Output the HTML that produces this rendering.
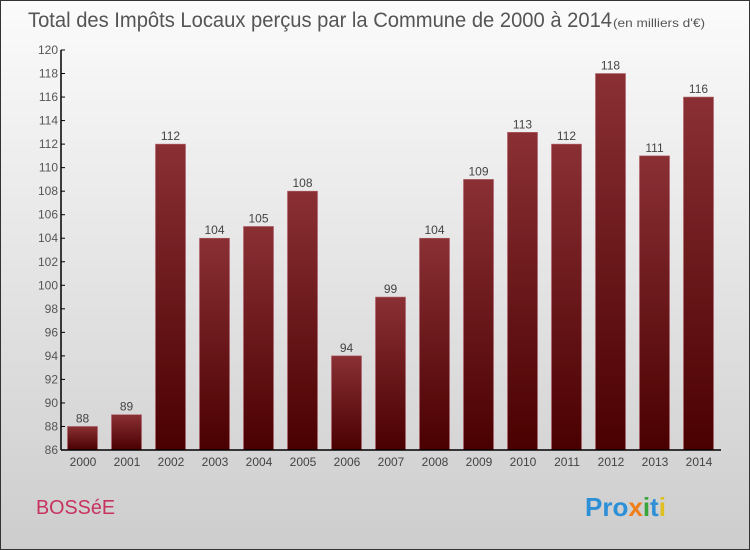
<!DOCTYPE html>
<html><head><meta charset="utf-8"><style>
body{margin:0;}
#c{width:750px;height:550px;position:relative;box-sizing:border-box;border:1px solid #333;background:linear-gradient(#fbfbfb,#cdcdcd);font-family:"Liberation Sans",sans-serif;overflow:hidden}
</style></head><body>
<div id="c">
<svg id="s" width="750" height="550" style="position:absolute;left:-1px;top:-1px">
<defs><linearGradient id="g" x1="0" y1="0" x2="0" y2="1"><stop offset="0" stop-color="#8a3035"/><stop offset="1" stop-color="#4a0000"/></linearGradient></defs>
<text x="28" y="27" font-size="21" fill="#555" textLength="584" lengthAdjust="spacingAndGlyphs">Total des Impôts Locaux perçus par la Commune de 2000 à 2014</text>
<text x="613" y="27" font-size="12" fill="#555" textLength="92" lengthAdjust="spacingAndGlyphs">(en milliers d'€)</text>
<text x="36" y="514" font-size="20" fill="#c8325f" textLength="79" lengthAdjust="spacingAndGlyphs">BOSSéE</text>
<text x="585" y="516" font-size="26" font-weight="bold"><tspan fill="#2d8fd6">Pro</tspan><tspan fill="#f07f1a">x</tspan><tspan fill="#3aa53a">i</tspan><tspan fill="#2d8fd6">t</tspan><tspan fill="#e0c020">i</tspan></text>
<g id="plot"></g>
</svg>
</div>
<script>
const years=["2000","2001","2002","2003","2004","2005","2006","2007","2008","2009","2010","2011","2012","2013","2014"];
const values=[88,89,112,104,105,108,94,99,104,109,113,112,118,111,116];
const ticks=[86,88,90,92,94,96,98,100,102,104,106,108,110,112,114,116,118,120];
const X0=61,X1=721,Y0=450,Y1=50,vmin=86,vmax=120;
const step=(X1-X0)/years.length;
const y=v=>Y0-(v-vmin)*(Y0-Y1)/(vmax-vmin);
const x=i=>X0+i*step;
const g=document.getElementById('plot');
const NS="http://www.w3.org/2000/svg";
function mk(t,a,txt){const e=document.createElementNS(NS,t);for(const k in a)e.setAttribute(k,a[k]);if(txt!=null)e.textContent=txt;g.appendChild(e);return e;}
values.forEach((v,i)=>{
 const r=mk('rect',{x:x(i)+6.5,y:y(v),width:30,height:Y0-y(v),fill:'url(#g)',stroke:'#b06068','stroke-width':0.6});
 
 
 const t=mk('text',{x:x(i)+21.5,y:y(v)-4,'text-anchor':'middle','font-size':12,fill:'#444'},v);
 
 
 const l=mk('text',{x:x(i)+22,y:Y0+16,'text-anchor':'middle','font-size':12,fill:'#444'},years[i]);
 
 
});
ticks.forEach(v=>{
 const tk=mk('line',{x1:X0,x2:X0+4,y1:y(v),y2:y(v),stroke:'#000'});
 
 
 const t=mk('text',{x:X0-3,y:y(v)+4,'text-anchor':'end','font-size':12,fill:'#555'},v);
 
 
});
const ya=mk('line',{x1:X0,x2:X0,y1:Y1,y2:Y0,stroke:'#000','stroke-width':1.5});


const xa=mk('line',{x1:X0,x2:X1,y1:Y0,y2:Y0,stroke:'#000','stroke-width':1.5});


</script>
</body></html>
